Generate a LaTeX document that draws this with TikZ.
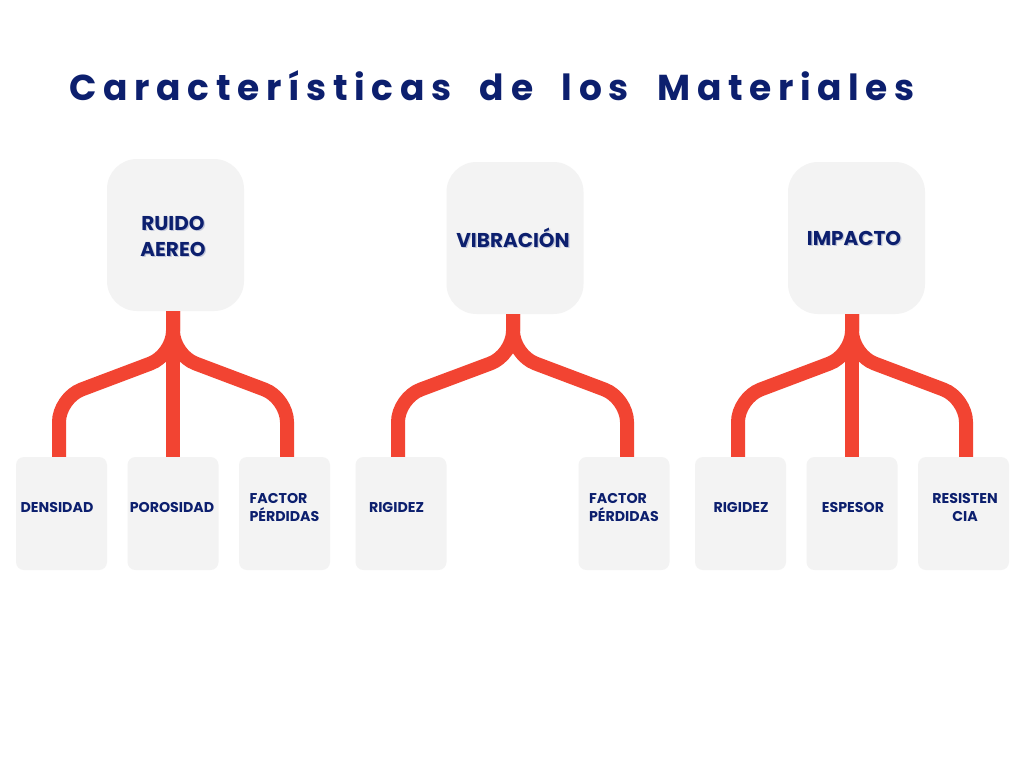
\documentclass[tikz,border=0pt]{standalone}
\usepackage{fontspec}
\setmainfont{Poppins}
\newfontfamily\titlefont[LetterSpace=18.5,WordSpace=2.0]{Poppins}
\definecolor{navy}{HTML}{0C1F6E}
\definecolor{boxgray}{HTML}{F3F3F3}
\definecolor{conred}{HTML}{F24432}
\begin{document}
\begin{tikzpicture}[x=1pt,y=-1pt,
  topbox/.style={fill=boxgray,rounded corners=30pt,minimum width=137pt,minimum height=152pt,inner sep=0pt},
  botbox/.style={fill=boxgray,rounded corners=8pt,minimum width=91pt,minimum height=113pt,inner sep=0pt},
  toplabel/.style={text=navy,font=\fontsize{20}{26}\selectfont\bfseries,align=center,inner sep=0pt},
  topshadow/.style={text=navy!25,font=\fontsize{20}{26}\selectfont\bfseries,align=center,inner sep=0pt},
  botlabel/.style={text=navy,font=\fontsize{14.2}{18}\selectfont\bfseries,align=center,inner sep=0pt},
  conn/.style={draw=conred,line width=14pt,rounded corners=24pt}]
\useasboundingbox[fill=white] (0,0) rectangle (1024,768);
\node[text=navy,font=\titlefont\fontsize{36}{40}\selectfont\bfseries,anchor=west,inner sep=0pt] (title) at (69,86) {Características de los Materiales};
% top boxes
\node[topbox] (t1) at (175.5,235) {};
\node[topbox] (t2) at (515,238) {};
\node[topbox] (t3) at (856.5,238) {};
% bottom boxes
\foreach \n/\x in {b1/61.5,b2/173,b3/284.5,b4/401,b5/624,b6/740.5,b7/852,b8/963.5}
  \node[botbox] (\n) at (\x,513.5) {};
% connectors
\draw[conn] (t1.south -| b2.north) -- (b2.north |- 0,355) -- ([xshift=-2.5pt]b1.north |- 0,398) -- ([xshift=-2.5pt]b1.north);
\draw[conn] (t1.south -| b2.north) -- (b2.north |- 0,355) -- ([xshift=2.5pt]b3.north |- 0,398) -- ([xshift=2.5pt]b3.north);
\draw[draw=conred,line width=14pt] (t1.south -| b2.north) -- (b2.north);
\coordinate (j2) at (513,0);
\draw[conn] (t2.south -| j2) -- (j2 |- 0,355) -- ([xshift=-3pt]b4.north |- 0,398) -- ([xshift=-3pt]b4.north);
\draw[conn] (t2.south -| j2) -- (j2 |- 0,355) -- ([xshift=3pt]b5.north |- 0,398) -- ([xshift=3pt]b5.north);
\draw[conn] (t3.south -| b7.north) -- (b7.north |- 0,355) -- ([xshift=-2.5pt]b6.north |- 0,398) -- ([xshift=-2.5pt]b6.north);
\draw[conn] (t3.south -| b7.north) -- (b7.north |- 0,355) -- ([xshift=2.5pt]b8.north |- 0,398) -- ([xshift=2.5pt]b8.north);
\draw[draw=conred,line width=14pt] (t3.south -| b7.north) -- (b7.north);
% top labels (with soft shadow)
\node[topshadow] (st1) at (174.2,237.8) {RUIDO\\AEREO};
\node[topshadow] (st2) at (514.2,239.3) {VIBRACIÓN};
\node[topshadow] (st3) at (855.2,239.3) {IMPACTO};
\node[toplabel] (lt1) at (173,236.5) {RUIDO\\AEREO};
\node[toplabel] (lt2) at (513,238) {VIBRACIÓN};
\node[toplabel] (lt3) at (854,238) {IMPACTO};
% bottom labels
\node[botlabel] (l1) at (57,507) {DENSIDAD};
\node[botlabel] (l2) at (172,507) {POROSIDAD};
\node[botlabel,align=left] (l3) at (284.5,507) {FACTOR\\PÉRDIDAS};
\node[botlabel] (l4) at (396.5,507) {RIGIDEZ};
\node[botlabel,align=left] (l5) at (624,507) {FACTOR\\PÉRDIDAS};
\node[botlabel] (l6) at (741,507) {RIGIDEZ};
\node[botlabel] (l7) at (853,507) {ESPESOR};
\node[botlabel] (l8) at (965,507) {RESISTEN\\CIA};
\end{tikzpicture}
\end{document}
